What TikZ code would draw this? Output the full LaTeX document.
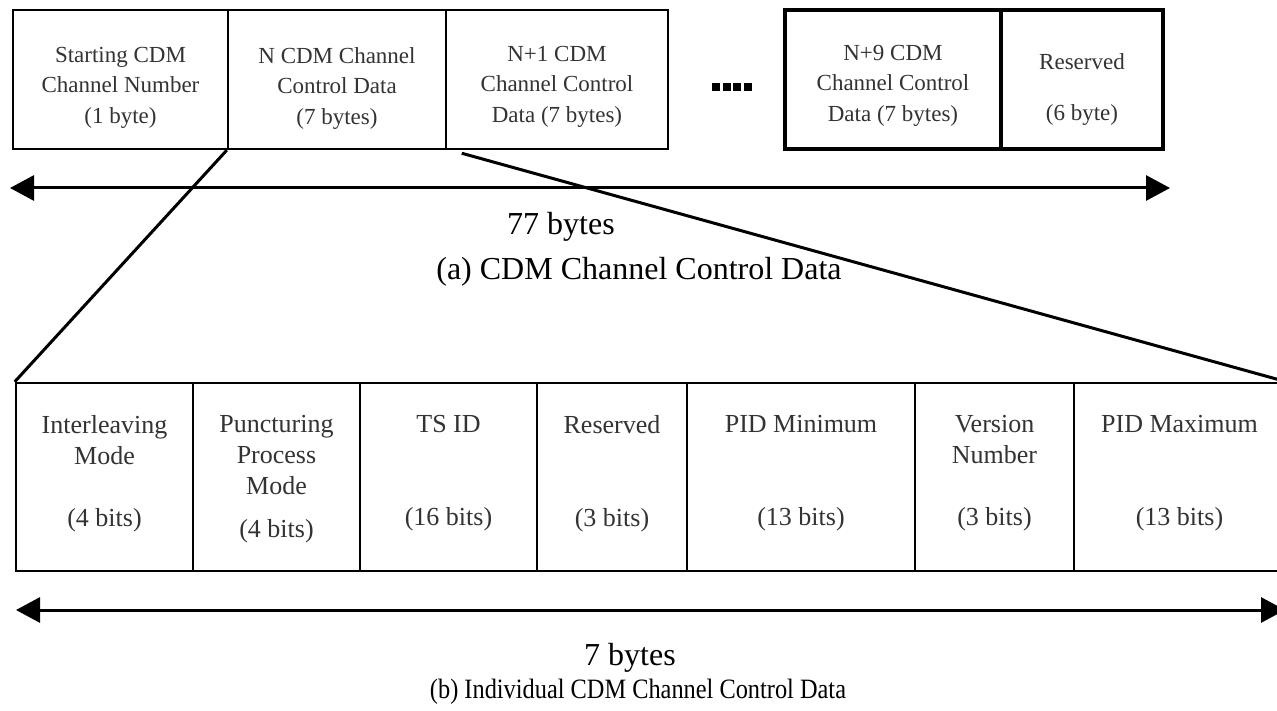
\documentclass[tikz,border=0pt]{standalone}
\usepackage{fontspec}
\setmainfont{Liberation Serif}
\usepackage{graphicx}
\usetikzlibrary{arrows.meta,calc}
\begin{document}
\begin{tikzpicture}[x=1pt,y=-1pt,
  topbox/.style={draw, line width=2.5pt, inner sep=0pt, minimum height=139pt},
  boldbox/.style={topbox, line width=3.5pt},
  fieldbox/.style={draw, line width=2.5pt, inner sep=0pt, minimum height=188pt},
  toptxt/.style={anchor=north, inner sep=0pt, align=center, text=black!80,
    font=\fontsize{23}{30.5}\selectfont},
  bottxt/.style={anchor=north, inner sep=0pt, align=center, text=black!80,
    font=\fontsize{26}{31}\selectfont},
  captxt/.style={inner sep=0pt, font=\fontsize{32}{36}\selectfont},
  spanarrow/.style={line width=3pt, {Triangle[length=24pt,width=25pt]}-{Triangle[length=24pt,width=25pt]}},
  fanline/.style={line width=3pt}
]
\clip (0,0) rectangle (1277,711);
\fill[white] (0,0) rectangle (1277,711);

% top row
\node[topbox, minimum width=215pt] (b1) at (120.5,79.5) {};
\node[topbox, minimum width=218pt] (b2) at (337,79.5) {};
\node[topbox, minimum width=222pt] (b3) at (557,79.5) {};
\node[boldbox, minimum width=216pt] (b4) at (893,79.5) {};
\node[boldbox, minimum width=162pt] (b5) at (1082,79.5) {};

\node[toptxt] (t1) at (b1.center |- 0,47) {Starting CDM\\Channel Number\\(1 byte)};
\node[toptxt] (t2) at (b2.center |- 0,47) {N CDM Channel\\Control Data\\(7 bytes)};
\node[toptxt] (t3) at (b3.center |- 0,46) {N+1 CDM\\Channel Control\\Data (7 bytes)};
\node[toptxt] (t4) at (b4.center |- 0,45) {N+9 CDM\\Channel Control\\Data (7 bytes)};
\node[toptxt] (t5) at (b5.center |- 0,53) {Reserved\\[20.5pt](6 byte)};

% dots
\foreach \i in {0,1,2,3}
  \fill ({712+10.7*\i},83) rectangle ++(8,8);

% top span arrow
\coordinate (aL) at (10,188);
\coordinate (aR) at (1170,188);
\draw[spanarrow] (aL) -- (aR);
\node[captxt] (c1) at (561,227) {77 bytes};
\node[captxt] (c2) at (639,272) {(a) CDM Channel Control Data};

% bottom row
\node[fieldbox, minimum width=177pt] (f1) at (104.5,477) {};
\node[fieldbox, minimum width=167pt] (f2) at (276.5,477) {};
\node[fieldbox, minimum width=177pt] (f3) at (448.5,477) {};
\node[fieldbox, minimum width=150pt] (f4) at (612,477) {};
\node[fieldbox, minimum width=228pt] (f5) at (801,477) {};
\node[fieldbox, minimum width=159pt] (f6) at (994.5,477) {};
\node[fieldbox, minimum width=211pt] (f7) at (1179.5,477) {};

\node[bottxt] (s1) at (f1.center |- 0,415) {Interleaving\\Mode\\[31pt](4 bits)};
\node[bottxt] (s2) at (f2.center |- 0,415) {Puncturing\\Process\\Mode\\[12pt](4 bits)};
\node[bottxt] (s3) at (f3.center |- 0,415) {TS ID\\[62pt](16 bits)};
\node[bottxt] (s4) at (f4.center |- 0,415) {Reserved\\[62pt](3 bits)};
\node[bottxt] (s5) at (f5.center |- 0,415) {PID Minimum\\[62pt](13 bits)};
\node[bottxt] (s6) at (f6.center |- 0,415) {Version\\Number\\[31pt](3 bits)};
\node[bottxt] (s7) at (f7.center |- 0,415) {PID Maximum\\[62pt](13 bits)};

% fan lines
\coordinate (fs) at ($(b3.south west)+(17,3)$);
\draw[fanline] (b2.south west) -- (f1.north west);
\draw[fanline] (fs) -- (f7.north east);

% bottom span arrow
\coordinate (bL) at (16,610);
\coordinate (bR) at (1285,610);
\draw[spanarrow] (bL) -- (bR);
\node[captxt] (c3) at (630,658) {7 bytes};
\node[captxt, font=\fontsize{28}{32}\selectfont] (c4) at (638,692) {\scalebox{0.87}[1]{(b) Individual CDM Channel Control Data}};
\end{tikzpicture}
\end{document}
